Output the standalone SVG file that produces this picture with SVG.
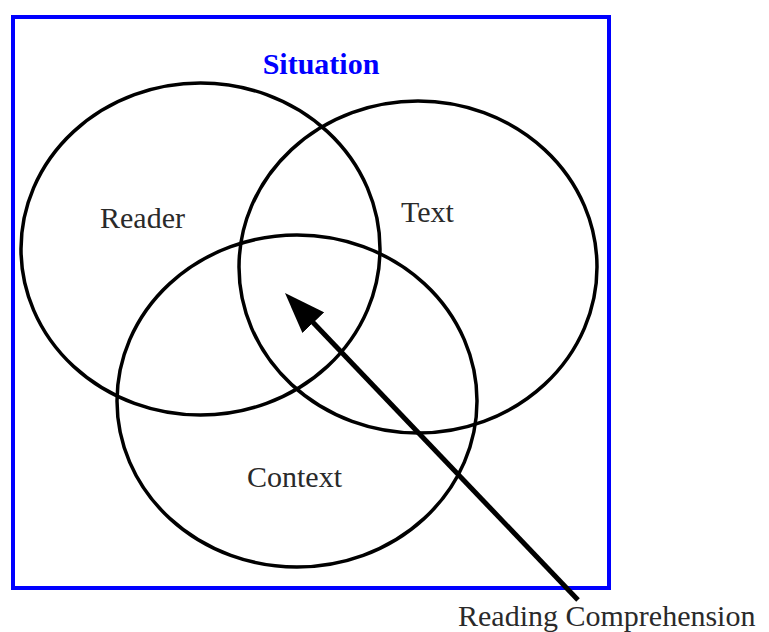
<svg xmlns="http://www.w3.org/2000/svg" width="769" height="632" viewBox="0 0 769 632">
<style>
.circ{fill:none;stroke:#000;stroke-width:3.5}
.lbl{font-family:"Liberation Serif","Times New Roman",serif;font-size:30px;fill:#2a2a2a}
.title{font-family:"Liberation Serif","Times New Roman",serif;font-size:30px;font-weight:bold;fill:#0000ff}
</style>
<defs>
<marker id="ah" markerUnits="userSpaceOnUse" viewBox="0 0 41 30" refX="11" refY="15" markerWidth="41" markerHeight="30" orient="auto">
<path d="M0,0 L41,15 L0,30 z" fill="#000"/>
</marker>
</defs>
<rect width="769" height="632" fill="#fff"/>
<g id="situation">
<rect x="13" y="17" width="596" height="571" fill="none" stroke="#0000ff" stroke-width="4"/>
<text class="title" x="321" y="74" text-anchor="middle">Situation</text>
</g>
<g id="reader">
<ellipse class="circ" cx="200.5" cy="249" rx="179.5" ry="166"/>
<text class="lbl" x="100" y="228">Reader</text>
</g>
<g id="text">
<ellipse class="circ" cx="418" cy="267" rx="179" ry="166"/>
<text class="lbl" x="401" y="222">Text</text>
</g>
<g id="context">
<ellipse class="circ" cx="297" cy="401" rx="180" ry="166"/>
<text class="lbl" x="247" y="487">Context</text>
</g>
<g id="reading-comprehension">
<text class="lbl" x="458" y="626">Reading Comprehension</text>
</g>
<g id="connectors">
<line x1="578" y1="600" x2="305.7" y2="314.7" stroke="#000" stroke-width="5" marker-end="url(#ah)"/>
</g>
</svg>
